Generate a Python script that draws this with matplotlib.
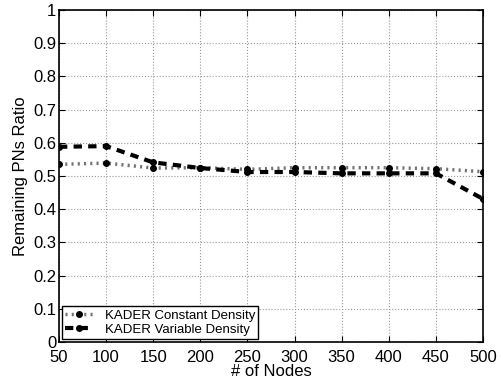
import matplotlib
matplotlib.use('Agg')
import matplotlib.pyplot as plt

plt.rcParams['font.family'] = ['Liberation Sans', 'DejaVu Sans']

nodes = [50, 100, 150, 200, 250, 300, 350, 400, 450, 500]
constant_density = [0.535, 0.539, 0.524, 0.525, 0.520, 0.525, 0.525, 0.525, 0.522, 0.513]
variable_density = [0.588, 0.590, 0.541, 0.524, 0.512, 0.512, 0.508, 0.508, 0.508, 0.431]

fig = plt.figure(figsize=(5.03, 3.85), dpi=100)
ax = fig.add_axes([59 / 503, 1 - 342 / 385, 424 / 503, 332 / 385])

ax.plot(nodes, constant_density, color='0.45', linestyle=(0, (0.6, 1.2)), linewidth=2.5,
        marker='o', markersize=4, markerfacecolor='black', markeredgecolor='black',
        label='KADER Constant Density')
ax.plot(nodes, variable_density, color='black', linestyle='--', linewidth=3,
        dashes=(2, 1.5), marker='o', markersize=4, markerfacecolor='black',
        markeredgecolor='black', label='KADER Variable Density')

ax.set_xlim(50, 500)
ax.set_ylim(0, 1)
ax.set_xticks(nodes)
ax.set_yticks([0, 0.1, 0.2, 0.3, 0.4, 0.5, 0.6, 0.7, 0.8, 0.9, 1])
ax.set_yticklabels(['0', '0.1', '0.2', '0.3', '0.4', '0.5', '0.6', '0.7', '0.8', '0.9', '1'])
ax.tick_params(direction='in', labelsize=12, top=True, right=True, length=4, pad=2)
ax.tick_params(axis='x', pad=6)
ax.grid(True, linestyle=':', color='0.6', linewidth=0.8)
for s in ax.spines.values():
    s.set_linewidth(1.2)

ax.set_xlabel('# of Nodes', fontsize=12, labelpad=-1)
ax.set_ylabel('Remaining PNs Ratio', fontsize=12, labelpad=4)

leg = ax.legend(loc='lower left', fontsize=9.5, fancybox=False, edgecolor='black',
                framealpha=1, borderpad=0.25, labelspacing=0.15, handlelength=2.2,
                borderaxespad=0.2)
leg.get_frame().set_linewidth(1.0)

fig.savefig('out.png', dpi=100)
